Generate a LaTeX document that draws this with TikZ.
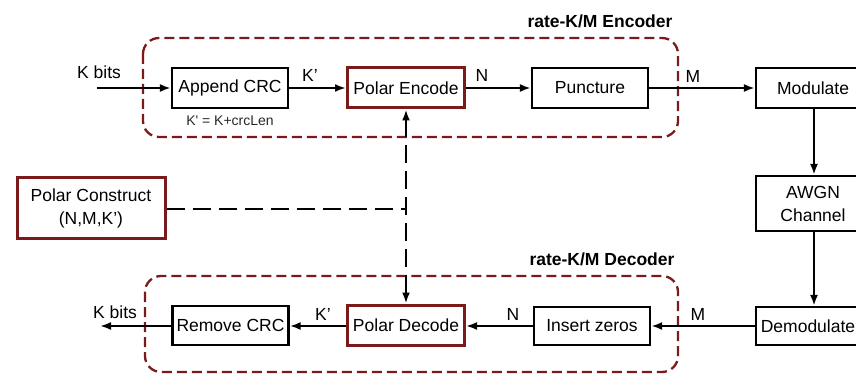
\documentclass[tikz,border=0pt]{standalone}
\usepackage{fontspec}
\setmainfont{Liberation Sans}
\usetikzlibrary{arrows.meta,calc}
\definecolor{dred}{RGB}{122,26,26}
\definecolor{lbl}{RGB}{40,40,40}
\tikzset{
  blk/.style={draw=black,line width=2.2pt,minimum width=116pt,minimum height=40pt,inner sep=0pt,font=\fontsize{17.5}{20}\selectfont},
  rblk/.style={blk,draw=dred,line width=3pt},
  grp/.style={draw=dred,line width=2.3pt,dash pattern=on 10pt off 5pt,rounded corners=16pt},
  arr/.style={line width=2.2pt,-{Latex[length=11pt,width=8pt]}},
  ctl/.style={line width=2.6pt,dash pattern=on 18pt off 8pt},
  ctlarr/.style={ctl,{Latex[length=11pt,width=8pt]}-{Latex[length=11pt,width=8pt]}},
  lab/.style={font=\fontsize{17.5}{20}\selectfont,inner sep=0pt},
  ttl/.style={font=\fontsize{17.5}{20}\selectfont\bfseries,inner sep=0pt},
}
\begin{document}
\begin{tikzpicture}[x=1pt,y=-1pt]
\useasboundingbox (0,0) rectangle (856,374);
\clip (0,0) rectangle (856,374);
% groups
\draw[grp] (143,38) rectangle (678,137);
\draw[grp] (145,276) rectangle (678,372);
\node[ttl] (enct) at (600,21) {rate-K/M Encoder};
\node[ttl] (dect) at (602,259) {rate-K/M Decoder};
% encoder row
\node[blk] (crc) at (230,88) {Append CRC};
\node[rblk,minimum width=117pt] (penc) at (406,88) {Polar Encode};
\node[blk] (punc) at (590,88) {Puncture};
\node[blk,minimum width=114pt] (mod) at (813,88) {Modulate};
\node[blk,minimum width=114pt,minimum height=55pt,align=center,font=\fontsize{17.5}{23}\selectfont] (awgn) at (813,203.5) {AWGN\\Channel};
% decoder row
\node[blk,minimum height=39pt] (rcrc) at (230.5,325.5) {Remove CRC};
\node[rblk,minimum width=117pt] (pdec) at (406,325) {Polar Decode};
\node[blk,minimum height=38pt] (ins) at (592,326) {Insert zeros};
\node[blk,minimum width=104pt,minimum height=38pt] (demod) at (808,326) {Demodulate};
% construct
\node[rblk,minimum width=148pt,minimum height=60pt,align=center,font=\fontsize{17.5}{23}\selectfont] (pcon) at (91,208) {Polar Construct\\(N,M,K’)};
% free ends
\coordinate (kin) at (97,88);
\coordinate (kout) at (100,326);
% connectors
\draw[arr] (kin) -- (crc.west);
\draw[arr] (crc.east) -- (penc.west);
\draw[arr] (penc.east) -- (punc.west);
\draw[arr] (punc.east) -- (mod.west);
\draw[arr] (mod.south -| 814,0) -- (awgn.north -| 814,0);
\draw[arr] (awgn.south -| 814,0) -- (demod.north -| 814,0);
\draw[arr] (demod.west |- 0,326) -- (ins.east |- 0,326);
\draw[arr] (ins.west |- 0,326) -- (pdec.east |- 0,326);
\draw[arr] (pdec.west |- 0,326) -- (rcrc.east |- 0,326);
\draw[arr] (rcrc.west |- 0,326) -- (kout);
\draw[ctlarr] (penc.south) -- (pdec.north);
\draw[ctl] (pcon.east |- 0,209) -- (penc.south |- 0,209);
% labels
\node[lab] (l1) at (99,72) {K bits};
\node[lab] (l2) at (310,75) {K’};
\node[font=\fontsize{14}{16}\selectfont,text=lbl,inner sep=0pt] (l3) at (230,121) {K\textquotesingle{} = K+crcLen};
\node[lab] (l4) at (482,75) {N};
\node[lab] (l5) at (693,76) {M};
\node[lab] (l6) at (115,312) {K bits};
\node[lab] (l7) at (323,314) {K’};
\node[lab] (l8) at (513,314) {N};
\node[lab] (l9) at (698,314) {M};
\end{tikzpicture}
\end{document}
